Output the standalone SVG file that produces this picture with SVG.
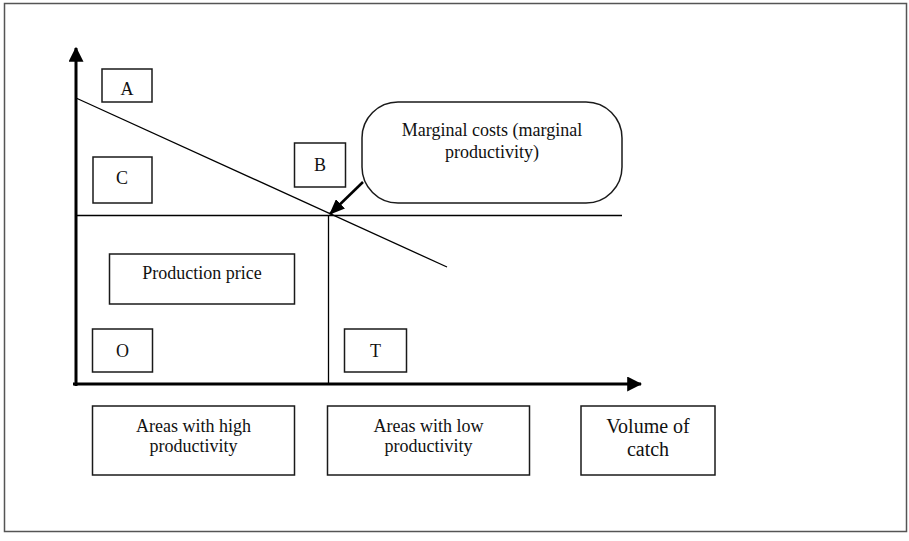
<svg xmlns="http://www.w3.org/2000/svg" width="909" height="541" viewBox="0 0 909 541">
  <style>
    .box { fill: #ffffff; stroke: #1a1a1a; stroke-width: 1.5; }
    .frame { fill: #ffffff; stroke: #555555; stroke-width: 1.5; }
    .axis { stroke: #000000; stroke-width: 3; fill: none; }
    .thin { stroke: #000000; stroke-width: 1.3; fill: none; }
    .lbl { font-family: "Liberation Serif", "Times New Roman", serif; font-size: 18px; fill: #111111; text-anchor: middle; }
    .big { font-size: 20px; }
  </style>
  <defs>
    <marker id="axisHead" markerWidth="5" markerHeight="5" refX="4.6" refY="2.5" orient="auto" markerUnits="strokeWidth">
      <path d="M0,0 L5,2.5 L0,5 Z" fill="#000000"/>
    </marker>
    <marker id="calloutHead" markerWidth="6" markerHeight="5" refX="5.6" refY="2.5" orient="auto" markerUnits="strokeWidth">
      <path d="M0,0 L6,2.5 L0,5 Z" fill="#000000"/>
    </marker>
  </defs>

  <!-- outer frame -->
  <rect class="frame" x="4.5" y="3.5" width="902" height="528"/>

  <g id="connectors">
    <!-- vertical axis -->
    <line class="axis" x1="76" y1="386" x2="76" y2="48" marker-end="url(#axisHead)"/>
    <!-- horizontal axis -->
    <line class="axis" x1="73" y1="384" x2="641" y2="384" marker-end="url(#axisHead)"/>
    <!-- price level -->
    <line class="thin" x1="76" y1="215.5" x2="622" y2="215.5"/>
    <!-- boundary between areas -->
    <line class="thin" x1="328.5" y1="215" x2="328.5" y2="384"/>
    <!-- marginal cost line -->
    <line class="thin" x1="76" y1="98" x2="447" y2="267"/>
    <!-- callout pointer -->
    <line x1="363" y1="182" x2="330" y2="214" stroke="#000000" stroke-width="2.6" marker-end="url(#calloutHead)"/>
  </g>

  <g id="node-a">
    <rect class="box" x="102" y="69" width="50" height="33"/>
    <text class="lbl" x="127" y="95">A</text>
  </g>
  <g id="node-c">
    <rect class="box" x="93" y="157" width="59" height="46"/>
    <text class="lbl" x="122" y="184">C</text>
  </g>
  <g id="node-b">
    <rect class="box" x="294.5" y="143" width="51" height="44"/>
    <text class="lbl" x="320" y="171">B</text>
  </g>
  <g id="node-marginal">
    <rect class="box" x="362" y="102" width="260" height="101" rx="36" ry="36"/>
    <text class="lbl" x="492" y="136">Marginal costs (marginal</text>
    <text class="lbl" x="492" y="158">productivity)</text>
  </g>
  <g id="node-price">
    <rect class="box" x="109.5" y="254" width="185" height="50"/>
    <text class="lbl" x="202" y="279">Production price</text>
  </g>
  <g id="node-o">
    <rect class="box" x="92.5" y="329" width="60" height="43"/>
    <text class="lbl" x="122.5" y="357">O</text>
  </g>
  <g id="node-t">
    <rect class="box" x="344.5" y="329" width="62" height="43"/>
    <text class="lbl" x="375.5" y="357">T</text>
  </g>
  <g id="node-high">
    <rect class="box" x="92.5" y="406" width="202" height="69"/>
    <text class="lbl" x="193.5" y="432">Areas with high</text>
    <text class="lbl" x="193.5" y="452">productivity</text>
  </g>
  <g id="node-low">
    <rect class="box" x="327.5" y="406" width="202" height="69"/>
    <text class="lbl" x="428.5" y="432">Areas with low</text>
    <text class="lbl" x="428.5" y="452">productivity</text>
  </g>
  <g id="node-volume">
    <rect class="box" x="581" y="406" width="134" height="69"/>
    <text class="lbl big" x="648" y="433">Volume of</text>
    <text class="lbl big" x="648" y="456">catch</text>
  </g>
</svg>
